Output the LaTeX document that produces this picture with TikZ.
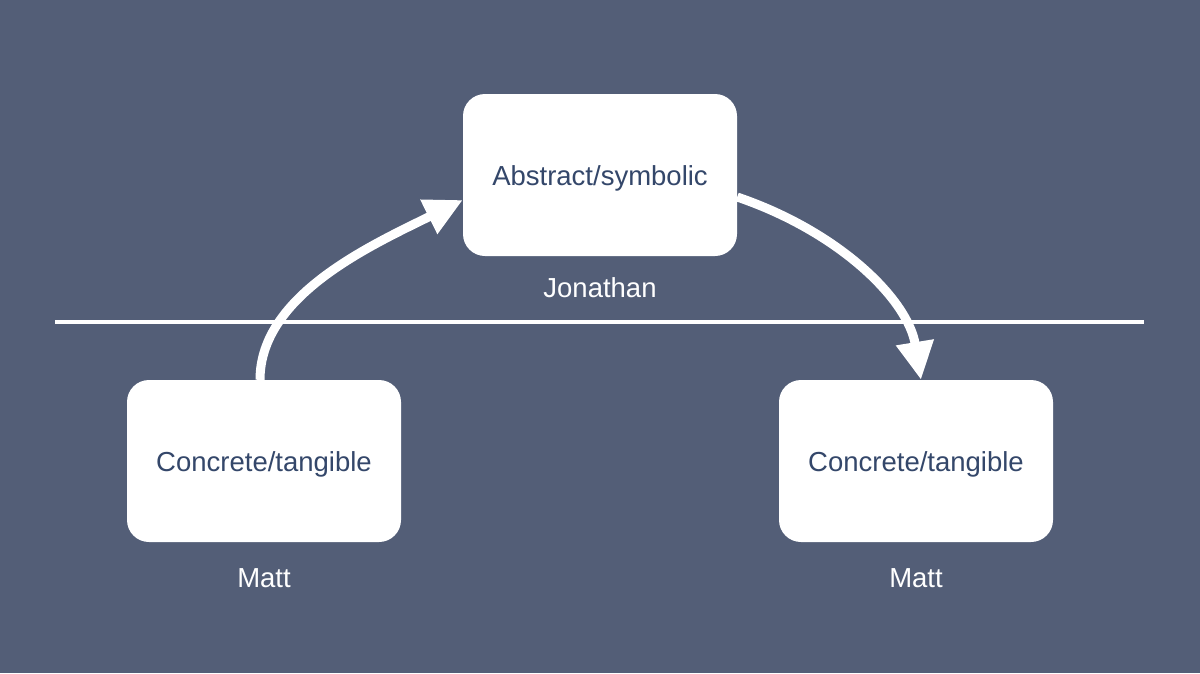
\documentclass[tikz,border=0pt]{standalone}
\usepackage{fontspec}
\setmainfont{Liberation Sans}
\usetikzlibrary{arrows.meta}
\definecolor{bg}{HTML}{535E77}
\definecolor{txt}{HTML}{34476A}
\newcommand{\lowertext}[1]{\raisebox{-3pt}[\height][\depth]{#1}}
\begin{document}
\begin{tikzpicture}[x=1pt,y=-1pt,
  box/.style={fill=white,rounded corners=22pt,minimum width=274pt,minimum height=162pt,inner sep=0pt,text=txt,font=\fontsize{27.5}{32}\selectfont},
  lbl/.style={text=white,font=\fontsize{27.5}{32}\selectfont,inner sep=0pt},
  conn/.style={white,line width=9pt,-{Triangle[length=38pt,width=36pt]}}]
\fill[bg] (0,0) rectangle (1200,673);
\useasboundingbox (0,0) rectangle (1200,673);
\node[box] (A) at (600,175) {\lowertext{Abstract/symbolic}};
\node[box] (L) at (264,461) {\lowertext{Concrete/tangible}};
\node[box] (R) at (916,461) {\lowertext{Concrete/tangible}};
\node[lbl] (jl) at (600,288) {Jonathan};
\node[lbl] (ml) at (264,578) {Matt};
\node[lbl] (mr) at (916,578) {Matt};
\coordinate (h1) at (55,322);
\coordinate (h2) at (1144,322);
\draw[white,line width=4pt] (h1) -- (h2);
\draw[conn] ([xshift=-4pt]L.north) .. controls (260,295) and (372,245) .. ([yshift=-25pt]A.west);
\draw[conn] ([yshift=-22pt]A.east) .. controls (840,232) and (908,300) .. ([xshift=5pt]R.north);
\end{tikzpicture}
\end{document}
